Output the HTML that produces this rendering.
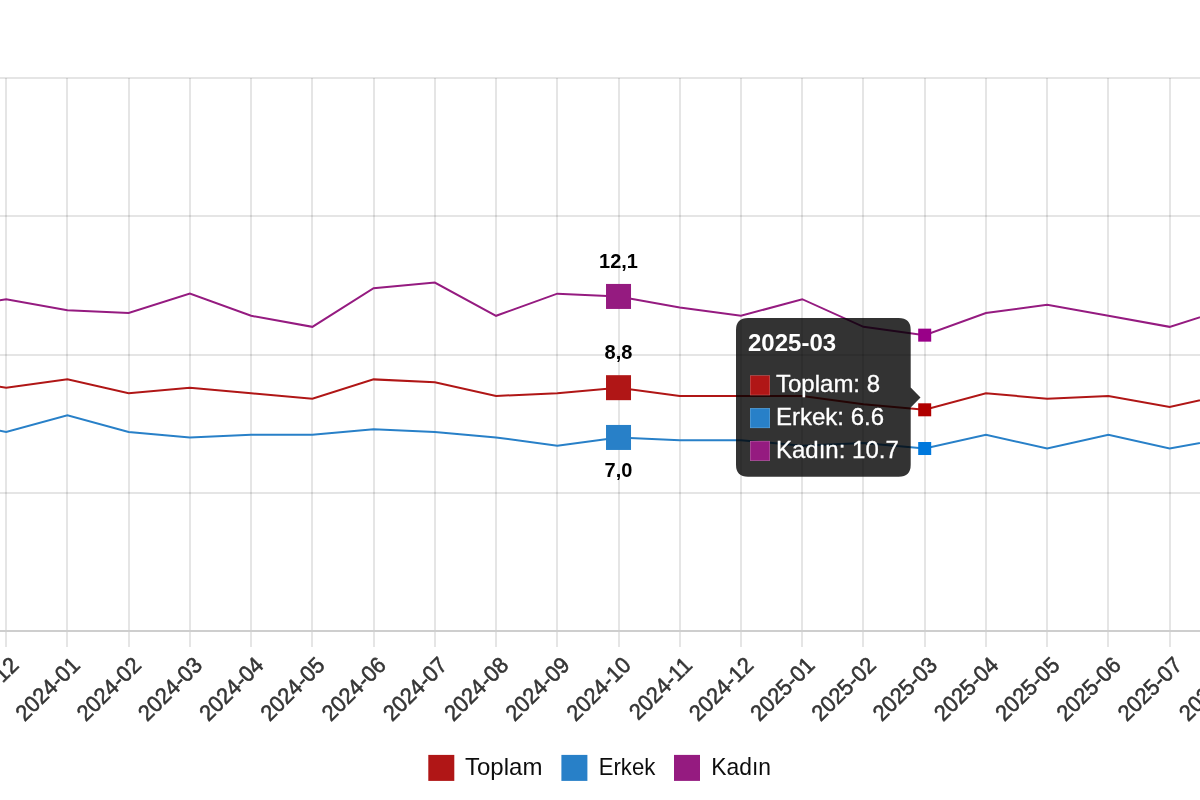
<!DOCTYPE html>
<html><head><meta charset="utf-8"><title>chart</title>
<style>
html,body{margin:0;padding:0;background:#fff;overflow:hidden}
body{width:1200px;height:800px;font-family:"Liberation Sans",sans-serif}
svg{display:block;position:absolute;left:0;top:0;will-change:transform}
text{font-family:"Liberation Sans",sans-serif}
</style></head><body>
<svg width="1200" height="800" viewBox="0 0 1200 800">
<rect width="1200" height="800" fill="#fff"/>
<g shape-rendering="crispEdges">
<rect x="5" y="78" width="2" height="552" fill="rgba(0,0,0,0.1)"/><rect x="5" y="632" width="2" height="15" fill="rgba(0,0,0,0.1)"/>
<rect x="66" y="78" width="2" height="552" fill="rgba(0,0,0,0.1)"/><rect x="66" y="632" width="2" height="15" fill="rgba(0,0,0,0.1)"/>
<rect x="128" y="78" width="2" height="552" fill="rgba(0,0,0,0.1)"/><rect x="128" y="632" width="2" height="15" fill="rgba(0,0,0,0.1)"/>
<rect x="189" y="78" width="2" height="552" fill="rgba(0,0,0,0.1)"/><rect x="189" y="632" width="2" height="15" fill="rgba(0,0,0,0.1)"/>
<rect x="250" y="78" width="2" height="552" fill="rgba(0,0,0,0.1)"/><rect x="250" y="632" width="2" height="15" fill="rgba(0,0,0,0.1)"/>
<rect x="311" y="78" width="2" height="552" fill="rgba(0,0,0,0.1)"/><rect x="311" y="632" width="2" height="15" fill="rgba(0,0,0,0.1)"/>
<rect x="373" y="78" width="2" height="552" fill="rgba(0,0,0,0.1)"/><rect x="373" y="632" width="2" height="15" fill="rgba(0,0,0,0.1)"/>
<rect x="434" y="78" width="2" height="552" fill="rgba(0,0,0,0.1)"/><rect x="434" y="632" width="2" height="15" fill="rgba(0,0,0,0.1)"/>
<rect x="495" y="78" width="2" height="552" fill="rgba(0,0,0,0.1)"/><rect x="495" y="632" width="2" height="15" fill="rgba(0,0,0,0.1)"/>
<rect x="556" y="78" width="2" height="552" fill="rgba(0,0,0,0.1)"/><rect x="556" y="632" width="2" height="15" fill="rgba(0,0,0,0.1)"/>
<rect x="618" y="78" width="2" height="552" fill="rgba(0,0,0,0.1)"/><rect x="618" y="632" width="2" height="15" fill="rgba(0,0,0,0.1)"/>
<rect x="679" y="78" width="2" height="552" fill="rgba(0,0,0,0.1)"/><rect x="679" y="632" width="2" height="15" fill="rgba(0,0,0,0.1)"/>
<rect x="740" y="78" width="2" height="552" fill="rgba(0,0,0,0.1)"/><rect x="740" y="632" width="2" height="15" fill="rgba(0,0,0,0.1)"/>
<rect x="801" y="78" width="2" height="552" fill="rgba(0,0,0,0.1)"/><rect x="801" y="632" width="2" height="15" fill="rgba(0,0,0,0.1)"/>
<rect x="862" y="78" width="2" height="552" fill="rgba(0,0,0,0.1)"/><rect x="862" y="632" width="2" height="15" fill="rgba(0,0,0,0.1)"/>
<rect x="924" y="78" width="2" height="552" fill="rgba(0,0,0,0.1)"/><rect x="924" y="632" width="2" height="15" fill="rgba(0,0,0,0.1)"/>
<rect x="985" y="78" width="2" height="552" fill="rgba(0,0,0,0.1)"/><rect x="985" y="632" width="2" height="15" fill="rgba(0,0,0,0.1)"/>
<rect x="1046" y="78" width="2" height="552" fill="rgba(0,0,0,0.1)"/><rect x="1046" y="632" width="2" height="15" fill="rgba(0,0,0,0.1)"/>
<rect x="1107" y="78" width="2" height="552" fill="rgba(0,0,0,0.1)"/><rect x="1107" y="632" width="2" height="15" fill="rgba(0,0,0,0.1)"/>
<rect x="1169" y="78" width="2" height="552" fill="rgba(0,0,0,0.1)"/><rect x="1169" y="632" width="2" height="15" fill="rgba(0,0,0,0.1)"/>
<rect x="1230" y="78" width="2" height="552" fill="rgba(0,0,0,0.1)"/><rect x="1230" y="632" width="2" height="15" fill="rgba(0,0,0,0.1)"/>
<rect x="0" y="492" width="1200" height="2" fill="rgba(0,0,0,0.1)"/>
<rect x="0" y="354" width="1200" height="2" fill="rgba(0,0,0,0.1)"/>
<rect x="0" y="215" width="1200" height="2" fill="rgba(0,0,0,0.1)"/>
<rect x="0" y="77" width="1200" height="2" fill="rgba(0,0,0,0.1)"/>
<rect x="0" y="630" width="1200" height="2" fill="#cecece"/>
</g>
<polyline points="-55.06,379.38 6.17,387.68 67.41,379.38 128.65,393.21 189.88,387.68 251.12,393.21 312.35,398.74 373.58,379.38 434.82,382.15 496.06,395.98 557.29,393.21 618.52,387.68 679.76,395.98 740.99,395.98 802.23,395.98 863.46,404.27 924.70,409.80 985.93,393.21 1047.17,398.74 1108.40,395.98 1169.64,407.04 1230.88,393.21" fill="none" stroke="#b01616" stroke-width="2" stroke-linejoin="miter"/>
<polyline points="-55.06,420.86 6.17,431.92 67.41,415.33 128.65,431.92 189.88,437.45 251.12,434.69 312.35,434.69 373.58,429.15 434.82,431.92 496.06,437.45 557.29,445.75 618.52,437.45 679.76,440.22 740.99,440.22 802.23,445.75 863.46,442.98 924.70,448.51 985.93,434.69 1047.17,448.51 1108.40,434.69 1169.64,448.51 1230.88,437.45" fill="none" stroke="#2880c8" stroke-width="2" stroke-linejoin="miter"/>
<polyline points="-55.06,310.26 6.17,299.20 67.41,310.26 128.65,313.03 189.88,293.67 251.12,315.79 312.35,326.85 373.58,288.14 434.82,282.61 496.06,315.79 557.29,293.67 618.52,296.44 679.76,307.50 740.99,315.79 802.23,299.20 863.46,326.85 924.70,335.15 985.93,313.03 1047.17,304.73 1108.40,315.79 1169.64,326.85 1230.88,307.50" fill="none" stroke="#951b80" stroke-width="2" stroke-linejoin="miter"/>
<rect x="606.02" y="375.18" width="25" height="25" fill="#b01616"/>
<rect x="606.02" y="424.95" width="25" height="25" fill="#2880c8"/>
<rect x="606.02" y="283.94" width="25" height="25" fill="#951b80"/>
<text x="618.52" y="267.54" font-size="20" font-weight="700" text-anchor="middle" fill="#000">12,1</text>
<text x="618.52" y="358.78" font-size="20" font-weight="700" text-anchor="middle" fill="#000">8,8</text>
<text x="618.52" y="477.05" font-size="20" font-weight="700" text-anchor="middle" fill="#000">7,0</text>
<rect x="918.20" y="403.30" width="13" height="13" fill="#b00000"/>
<rect x="918.20" y="442.01" width="13" height="13" fill="#0078dc"/>
<rect x="918.20" y="328.65" width="13" height="13" fill="#990088"/>
<g style="opacity:0.999">
<text transform="translate(-41.26,666.70) rotate(-44.5) scale(0.955,1)" font-size="22.6" text-anchor="end" fill="#353535" stroke="#353535" stroke-width="0.55">2023-11</text>
<text transform="translate(19.98,666.70) rotate(-44.5) scale(0.955,1)" font-size="22.6" text-anchor="end" fill="#353535" stroke="#353535" stroke-width="0.55">2023-12</text>
<text transform="translate(81.21,666.70) rotate(-44.5) scale(0.955,1)" font-size="22.6" text-anchor="end" fill="#353535" stroke="#353535" stroke-width="0.55">2024-01</text>
<text transform="translate(142.45,666.70) rotate(-44.5) scale(0.955,1)" font-size="22.6" text-anchor="end" fill="#353535" stroke="#353535" stroke-width="0.55">2024-02</text>
<text transform="translate(203.68,666.70) rotate(-44.5) scale(0.955,1)" font-size="22.6" text-anchor="end" fill="#353535" stroke="#353535" stroke-width="0.55">2024-03</text>
<text transform="translate(264.92,666.70) rotate(-44.5) scale(0.955,1)" font-size="22.6" text-anchor="end" fill="#353535" stroke="#353535" stroke-width="0.55">2024-04</text>
<text transform="translate(326.15,666.70) rotate(-44.5) scale(0.955,1)" font-size="22.6" text-anchor="end" fill="#353535" stroke="#353535" stroke-width="0.55">2024-05</text>
<text transform="translate(387.38,666.70) rotate(-44.5) scale(0.955,1)" font-size="22.6" text-anchor="end" fill="#353535" stroke="#353535" stroke-width="0.55">2024-06</text>
<text transform="translate(448.62,666.70) rotate(-44.5) scale(0.955,1)" font-size="22.6" text-anchor="end" fill="#353535" stroke="#353535" stroke-width="0.55">2024-07</text>
<text transform="translate(509.86,666.70) rotate(-44.5) scale(0.955,1)" font-size="22.6" text-anchor="end" fill="#353535" stroke="#353535" stroke-width="0.55">2024-08</text>
<text transform="translate(571.09,666.70) rotate(-44.5) scale(0.955,1)" font-size="22.6" text-anchor="end" fill="#353535" stroke="#353535" stroke-width="0.55">2024-09</text>
<text transform="translate(632.32,666.70) rotate(-44.5) scale(0.955,1)" font-size="22.6" text-anchor="end" fill="#353535" stroke="#353535" stroke-width="0.55">2024-10</text>
<text transform="translate(693.56,666.70) rotate(-44.5) scale(0.955,1)" font-size="22.6" text-anchor="end" fill="#353535" stroke="#353535" stroke-width="0.55">2024-11</text>
<text transform="translate(754.79,666.70) rotate(-44.5) scale(0.955,1)" font-size="22.6" text-anchor="end" fill="#353535" stroke="#353535" stroke-width="0.55">2024-12</text>
<text transform="translate(816.03,666.70) rotate(-44.5) scale(0.955,1)" font-size="22.6" text-anchor="end" fill="#353535" stroke="#353535" stroke-width="0.55">2025-01</text>
<text transform="translate(877.26,666.70) rotate(-44.5) scale(0.955,1)" font-size="22.6" text-anchor="end" fill="#353535" stroke="#353535" stroke-width="0.55">2025-02</text>
<text transform="translate(938.50,666.70) rotate(-44.5) scale(0.955,1)" font-size="22.6" text-anchor="end" fill="#353535" stroke="#353535" stroke-width="0.55">2025-03</text>
<text transform="translate(999.73,666.70) rotate(-44.5) scale(0.955,1)" font-size="22.6" text-anchor="end" fill="#353535" stroke="#353535" stroke-width="0.55">2025-04</text>
<text transform="translate(1060.97,666.70) rotate(-44.5) scale(0.955,1)" font-size="22.6" text-anchor="end" fill="#353535" stroke="#353535" stroke-width="0.55">2025-05</text>
<text transform="translate(1122.20,666.70) rotate(-44.5) scale(0.955,1)" font-size="22.6" text-anchor="end" fill="#353535" stroke="#353535" stroke-width="0.55">2025-06</text>
<text transform="translate(1183.44,666.70) rotate(-44.5) scale(0.955,1)" font-size="22.6" text-anchor="end" fill="#353535" stroke="#353535" stroke-width="0.55">2025-07</text>
<text transform="translate(1244.67,666.70) rotate(-44.5) scale(0.955,1)" font-size="22.6" text-anchor="end" fill="#353535" stroke="#353535" stroke-width="0.55">2025-08</text>
</g>
<rect x="428.3" y="754.9" width="26" height="26" fill="#b01616"/>
<text transform="translate(465.0,774.6) scale(1.0,1)" font-size="24" fill="#0d0d0d">Toplam</text>
<rect x="561.4" y="754.9" width="26" height="26" fill="#2880c8"/>
<text transform="translate(598.7,774.6) scale(0.924,1)" font-size="24" fill="#0d0d0d">Erkek</text>
<rect x="674.0" y="754.9" width="26" height="26" fill="#951b80"/>
<text transform="translate(711.3,774.6) scale(0.953,1)" font-size="24" fill="#0d0d0d">Kadın</text>
<path d="M748.0,318.1 H898.7 Q910.7,318.1 910.7,330.1 V387.4 L920.5,397.4 L910.7,407.4 V464.8 Q910.7,476.8 898.7,476.8 H748.0 Q736.0,476.8 736.0,464.8 V330.1 Q736.0,318.1 748.0,318.1 Z" fill="rgba(0,0,0,0.8)"/>
<text x="748" y="351.2" font-size="24" font-weight="700" fill="#fff">2025-03</text>
<rect x="750" y="375.30" width="20" height="20" fill="#c45c5c"/>
<rect x="750.6" y="375.90" width="18.8" height="18.8" fill="#b01616"/>
<text x="776" y="392.00" font-size="24" fill="#fff" stroke="#fff" stroke-width="0.3">Toplam: 8</text>
<rect x="750" y="408.10" width="20" height="20" fill="#5fa3d8"/>
<rect x="750.6" y="408.70" width="18.8" height="18.8" fill="#2880c8"/>
<text x="776" y="424.80" font-size="24" fill="#fff" stroke="#fff" stroke-width="0.3">Erkek: 6.6</text>
<rect x="750" y="440.90" width="20" height="20" fill="#b263a3"/>
<rect x="750.6" y="441.50" width="18.8" height="18.8" fill="#951b80"/>
<text x="776" y="457.60" font-size="24" fill="#fff" stroke="#fff" stroke-width="0.3">Kadın: 10.7</text>
</svg></body></html>
